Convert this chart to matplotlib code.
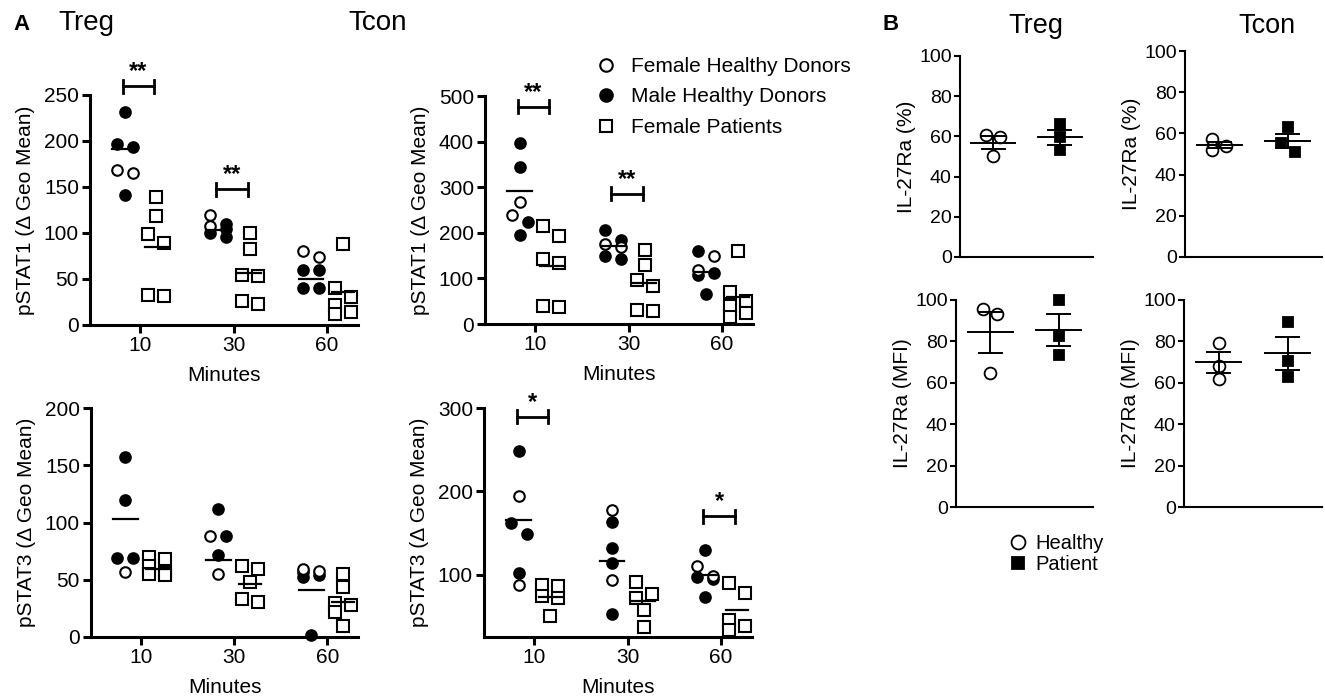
import matplotlib
matplotlib.use("Agg")
import matplotlib.pyplot as plt
from matplotlib.lines import Line2D
import numpy as np

plt.rcParams['font.family'] = ['Liberation Sans', 'DejaVu Sans']

W, H = 1325, 699
MINUTES = ["10", "30", "60"]

# ---- panel A: one inner list per time point (10, 30, 60 min) ----
TREG_STAT1_FEM = [[165, 168], [120, 108], [74, 80]]
TREG_STAT1_MALE = [[232, 197, 193, 141], [104, 96, 110, 100], [60, 60, 40, 40]]
TREG_STAT1_PAT = [[139, 118, 99, 89, 33, 31], [100, 83, 54, 53, 26, 23], [88, 40, 30, 22, 14, 12]]
TREG_STAT1_MEAN_H = [191, 103, 50]
TREG_STAT1_MEAN_P = [85, 56, 36]
TREG_STAT1_SIG = ["**", "**", ""]

TCON_STAT1_FEM = [[238, 267], [168, 175], [150, 118]]
TCON_STAT1_MALE = [[396, 344, 223, 196], [206, 185, 150, 143], [160, 112, 108, 65]]
TCON_STAT1_PAT = [[216, 194, 143, 134, 39, 37], [163, 130, 97, 83, 30, 28], [160, 70, 50, 40, 25, 15]]
TCON_STAT1_MEAN_H = [291, 170, 115]
TCON_STAT1_MEAN_P = [127, 89, 60]
TCON_STAT1_SIG = ["**", "**", ""]

TREG_STAT3_FEM = [[57], [88, 55], [58, 59]]
TREG_STAT3_MALE = [[157, 120, 69, 69], [112, 88, 72], [54, 52, 57, 2]]
TREG_STAT3_PAT = [[70, 68, 62, 56, 55, 54], [62, 59, 48, 33, 31], [55, 44, 30, 28, 22, 10]]
TREG_STAT3_MEAN_H = [103, 67, 41]
TREG_STAT3_MEAN_P = [59, 46, 31]
TREG_STAT3_SIG = ["", "", ""]

TCON_STAT3_FEM = [[194, 87], [178, 94], [110, 98]]
TCON_STAT3_MALE = [[248, 162, 149, 102], [163, 132, 114, 53], [129, 97, 95, 73]]
TCON_STAT3_PAT = [[87, 86, 74, 72, 50], [91, 77, 72, 57, 37], [90, 78, 45, 38, 33]]
TCON_STAT3_MEAN_H = [165, 116, 100]
TCON_STAT3_MEAN_P = [73, 68, 57]
TCON_STAT3_SIG = ["*", "", "*"]

# ---- panel B: IL-27Ra, healthy vs patient ----
TREG_PCT_H = [60.6, 59.8, 50.3]
TREG_PCT_P = [66.1, 59.5, 53.2]
TCON_PCT_H = [57.1, 51.9, 53.9]
TCON_PCT_P = [62.9, 55.5, 51.1]
TREG_MFI_H = [95.7, 93.1, 64.6]
TREG_MFI_P = [100.0, 82.6, 73.5]
TCON_MFI_H = [79.4, 68.2, 61.9]
TCON_MFI_P = [89.5, 70.3, 63.0]

fig = plt.figure(figsize=(W / 100, H / 100), dpi=100)


def add_ax(x0, y0, x1, y1):
    # boxes given in pixels from the top left corner
    return fig.add_axes([x0 / W, 1 - y1 / H, (x1 - x0) / W, (y1 - y0) / H])


def px_per_unit(ax):
    (x0, y0), (x1, y1) = ax.transData.transform([(0, 0), (1, 1)])
    return x1 - x0, y1 - y0


def swarm(vals, ppy, diam=12, side=8):
    # points closer than one marker get pushed left / right in turn
    vals = np.asarray(vals, float)
    order = np.argsort(-vals, kind="stable")
    offs = np.zeros(len(vals))
    groups, cur = [], [order[0]]
    for a, b in zip(order[:-1], order[1:]):
        if (vals[a] - vals[b]) * ppy < diam:
            cur.append(b)
        else:
            groups.append(cur)
            cur = [b]
    groups.append(cur)
    for g in groups:
        if len(g) > 1:
            for k, idx in enumerate(g):
                offs[idx] = side if k % 2 else -side
    return offs


def style(ax, lw, tl):
    for s in ["top", "right"]:
        ax.spines[s].set_visible(False)
    for s in ["left", "bottom"]:
        ax.spines[s].set_linewidth(lw)
    ax.tick_params(width=lw, length=tl, direction="out")


def panel_a(box, fem, male, pat, mean_h, mean_p, sig, ylim, yticks, ylabel, brk):
    ax = add_ax(*box)
    ax.set_xlim(0.46, 3.33)
    ax.set_ylim(*ylim)
    style(ax, 2.2, 6)
    ax.set_xticks([1, 2, 3], MINUTES)
    ax.set_yticks(yticks)
    ax.tick_params(labelsize=15, pad=2)
    ax.set_xlabel("Minutes", fontsize=15, labelpad=8)
    ax.set_ylabel(ylabel, fontsize=15, labelpad=6)
    ppx, ppy = px_per_unit(ax)
    span = ylim[1] - ylim[0]
    for i in range(3):
        xh = i + 1 - 0.17
        xp = i + 1 + 0.17
        hv = fem[i] + male[i]
        off = swarm(hv, ppy) / ppx
        nf = len(fem[i])
        ax.plot(xh + off[nf:], male[i], "o", ms=7.6, mfc="black", mec="black",
                mew=1.5, ls="none", zorder=3, clip_on=False)
        ax.plot(xh + off[:nf], fem[i], "o", ms=7.6, mfc="white", mec="black",
                mew=1.5, ls="none", zorder=3, clip_on=False)
        offp = swarm(pat[i], ppy) / ppx
        ax.plot(xp + offp, pat[i], "s", ms=8, mfc="white", mec="black",
                mew=1.5, ls="none", zorder=3, clip_on=False)
        ax.plot([xh - 0.13, xh + 0.13], [mean_h[i]] * 2, color="black", lw=1.6, zorder=4)
        ax.plot([xp - 0.12, xp + 0.12], [mean_p[i]] * 2, color="black", lw=1.6, zorder=4)
        if sig[i]:
            top = max(hv + pat[i]) + brk * span
            cap = 6.5 / ppy
            x0, x1 = i + 1 - 0.19, i + 1 + 0.15
            ax.plot([x0, x1], [top, top], color="black", lw=2, clip_on=False)
            ax.plot([x0, x0], [top - cap, top + cap], color="black", lw=2, clip_on=False)
            ax.plot([x1, x1], [top - cap, top + cap], color="black", lw=2, clip_on=False)
            ax.text((x0 + x1) / 2, top + 3 / ppy, sig[i], ha="center", va="bottom",
                    fontsize=17, fontweight="bold")
    return ax


def panel_b(box, healthy, patient, ylabel):
    ax = add_ax(*box)
    ax.set_xlim(0.5, 2.5)
    ax.set_ylim(0, 100)
    style(ax, 1.5, 4)
    ax.set_xticks([])
    ax.set_yticks([0, 20, 40, 60, 80, 100])
    ax.tick_params(labelsize=14, pad=2)
    ax.set_ylabel(ylabel, fontsize=15, labelpad=2)
    ppx, ppy = px_per_unit(ax)
    for x, vals, mk, fc, ms in [(1, healthy, "o", "white", 8.5), (2, patient, "s", "black", 6.5)]:
        vals = np.asarray(vals)
        off = swarm(vals, ppy, diam=12, side=7) / ppx
        ax.plot(x + off, vals, mk, ms=ms, mfc=fc, mec="black", mew=1.3, ls="none",
                zorder=3, clip_on=False)
        m = vals.mean()
        sem = vals.std(ddof=1) / np.sqrt(len(vals))
        ax.plot([x - 0.33, x + 0.33], [m, m], color="black", lw=1.4, zorder=4)
        ax.plot([x, x], [m - sem, m + sem], color="black", lw=1.4, zorder=4)
        for e in (m - sem, m + sem):
            ax.plot([x - 0.17, x + 0.17], [e, e], color="black", lw=1.4, zorder=4)
    return ax


panel_a((90, 95, 358, 325), TREG_STAT1_FEM, TREG_STAT1_MALE, TREG_STAT1_PAT,
        TREG_STAT1_MEAN_H, TREG_STAT1_MEAN_P, TREG_STAT1_SIG,
        (0, 250), [0, 50, 100, 150, 200, 250], "pSTAT1 (\u0394 Geo Mean)", 0.11)
panel_a((485, 96, 753, 324), TCON_STAT1_FEM, TCON_STAT1_MALE, TCON_STAT1_PAT,
        TCON_STAT1_MEAN_H, TCON_STAT1_MEAN_P, TCON_STAT1_SIG,
        (0, 500), [0, 100, 200, 300, 400, 500], "pSTAT1 (\u0394 Geo Mean)", 0.16)
panel_a((91, 408, 358, 637), TREG_STAT3_FEM, TREG_STAT3_MALE, TREG_STAT3_PAT,
        TREG_STAT3_MEAN_H, TREG_STAT3_MEAN_P, TREG_STAT3_SIG,
        (0, 200), [0, 50, 100, 150, 200], "pSTAT3 (\u0394 Geo Mean)", 0.15)
panel_a((484, 408, 752, 637), TCON_STAT3_FEM, TCON_STAT3_MALE, TCON_STAT3_PAT,
        TCON_STAT3_MEAN_H, TCON_STAT3_MEAN_P, TCON_STAT3_SIG,
        (25, 300), [100, 200, 300], "pSTAT3 (\u0394 Geo Mean)", 0.15)

panel_b((960, 56, 1093, 257), TREG_PCT_H, TREG_PCT_P, "IL-27Ra (%)")
panel_b((1185, 51, 1322, 257), TCON_PCT_H, TCON_PCT_P, "IL-27Ra (%)")
panel_b((956, 300, 1093, 507), TREG_MFI_H, TREG_MFI_P, "IL-27Ra (MFI)")
panel_b((1184, 300, 1322, 507), TCON_MFI_H, TCON_MFI_P, "IL-27Ra (MFI)")


def ftext(x, y, s, **kw):
    fig.text(x / W, 1 - y / H, s, va="baseline", **kw)


ftext(13, 30, "A", fontsize=16, fontweight="bold")
ftext(58, 30, "Treg", fontsize=20)
ftext(348, 30, "Tcon", fontsize=20)
ftext(882, 30, "B", fontsize=16, fontweight="bold")
ftext(1008, 33, "Treg", fontsize=19.5)
ftext(1238, 33, "Tcon", fontsize=19.5)

# legends
a_handles = [
    Line2D([], [], marker="o", ls="none", ms=9, mfc="white", mec="black", mew=1.5),
    Line2D([], [], marker="o", ls="none", ms=9, mfc="black", mec="black", mew=1.5),
    Line2D([], [], marker="s", ls="none", ms=9, mfc="white", mec="black", mew=1.5),
]
fig.legend(a_handles, ["Female Healthy Donors", "Male Healthy Donors", "Female Patients"],
           loc="upper left", bbox_to_anchor=(596 / W, 1 - 57 / H), frameon=False,
           fontsize=15, handlelength=1.0, handletextpad=0.7, labelspacing=0.55,
           borderpad=0, borderaxespad=0)

b_handles = [
    Line2D([], [], marker="o", ls="none", ms=10, mfc="white", mec="black", mew=1.3),
    Line2D([], [], marker="s", ls="none", ms=8.5, mfc="black", mec="black", mew=1.3),
]
fig.legend(b_handles, ["Healthy", "Patient"],
           loc="upper left", bbox_to_anchor=(1010 / W, 1 - 534 / H), frameon=False,
           fontsize=14.5, handlelength=0.8, handletextpad=0.45, labelspacing=0.1,
           borderpad=0, borderaxespad=0)

fig.savefig("out.png", dpi=100)
